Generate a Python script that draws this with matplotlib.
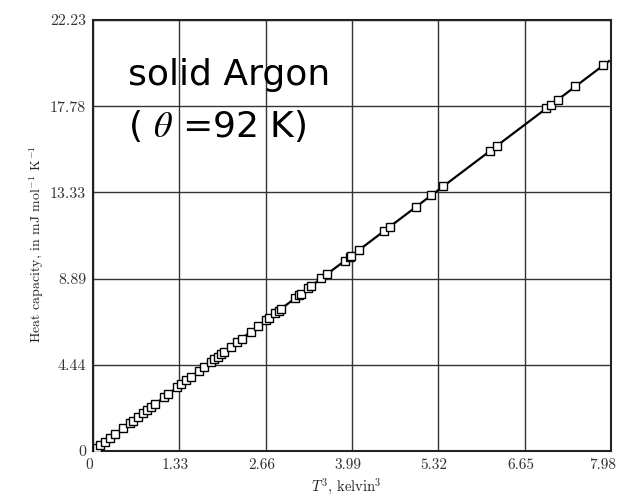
# heat capacity of solid argon vs T^3

import matplotlib.pyplot as plt
import matplotlib.transforms as mtransforms

t_cubed = [0.06, 0.11, 0.18, 0.26, 0.34, 0.46, 0.57, 0.61, 0.69, 0.77,
           0.84, 0.90, 0.95, 1.10, 1.15, 1.30, 1.36, 1.44, 1.51, 1.64,
           1.71, 1.82, 1.87, 1.92, 1.97, 2.02, 2.12, 2.22, 2.29, 2.43,
           2.55, 2.66, 2.71, 2.81, 2.86, 2.90, 3.12, 3.18, 3.21, 3.32,
           3.36, 3.52, 3.61, 3.88, 3.96, 3.97, 4.10, 4.49, 4.57, 4.98,
           5.21, 5.40, 6.12, 6.22, 6.98, 7.06, 7.16, 7.43, 7.86]
heat_cap = [0.17, 0.30, 0.48, 0.68, 0.88, 1.18, 1.45, 1.56, 1.76, 1.96,
            2.14, 2.29, 2.41, 2.79, 2.92, 3.29, 3.44, 3.65, 3.83, 4.15,
            4.33, 4.60, 4.74, 4.86, 4.99, 5.11, 5.37, 5.62, 5.80, 6.15,
            6.46, 6.73, 6.86, 7.11, 7.24, 7.34, 7.90, 8.05, 8.12, 8.40,
            8.50, 8.91, 9.13, 9.82, 10.02, 10.05, 10.37, 11.36, 11.56, 12.60,
            13.18, 13.66, 15.48, 15.74, 17.66, 17.86, 18.11, 18.80, 19.89]

# straight line through the data
fit_x = [0.0, 7.95]
fit_y = [0.0, 20.1]

x_ticks = [0, 1.33, 2.66, 3.99, 5.32, 6.65, 7.98]
x_labels = ['0', '1.33', '2.66', '3.99', '5.32', '6.65', '7.98']
y_ticks = [0, 4.44, 8.89, 13.33, 17.78, 22.23]
y_labels = ['0', '4.44', '8.89', '13.33', '17.78', '22.23']

fig = plt.figure(figsize=(6.22, 4.96), dpi=100)
ax = fig.add_axes([0.1495, 0.0907, 0.8325, 0.8693])

ax.plot(fit_x, fit_y, color='black', lw=1.6, zorder=3)
ax.plot(t_cubed, heat_cap, 's', ms=6, mfc='white', mec='black', mew=1.0, zorder=4)

ax.set_xlim(0, 7.98)
ax.set_ylim(0, 22.23)
ax.set_xticks(x_ticks)
ax.set_xticklabels(x_labels, fontfamily='cmr10', fontsize=11, color='#333333')
ax.set_yticks(y_ticks)
ax.set_yticklabels(y_labels, fontfamily='cmr10', fontsize=11.5, color='#333333')
ax.tick_params(length=0, pad=5)
ax.grid(True, color='#333333', lw=1.0)
ax.set_axisbelow(True)
for s in ax.spines.values():
    s.set_linewidth(1.5)
    s.set_color('#222222')

# x tick labels sit a little left of their grid lines in the scan
shift = mtransforms.ScaledTranslation(-4 / 100, 0, fig.dpi_scale_trans)
for lab in ax.get_xticklabels()[:-1]:
    lab.set_transform(lab.get_transform() + shift)
last_shift = mtransforms.ScaledTranslation(-8 / 100, 0, fig.dpi_scale_trans)
lab = ax.get_xticklabels()[-1]
lab.set_transform(lab.get_transform() + last_shift)

ax.set_xlabel(r'$T^3$, kelvin$^3$', fontfamily='cmr10', fontsize=10.5, color='#222222',
              math_fontfamily='cm')
ax.xaxis.set_label_coords(0.49, -0.058)
ax.set_ylabel(r'Heat capacity, in mJ mol$^{-1}$ K$^{-1}$', fontfamily='cmr10',
              fontsize=10, color='#222222', math_fontfamily='cm')
ax.yaxis.set_label_coords(-0.09, 0.48)

fig.text(128 / 622, 1 - 85 / 496, 'solid Argon', fontfamily='DejaVu Sans',
         fontsize=26, va='baseline', ha='left')
fig.text(128 / 622, 1 - 137 / 496, r'( $\theta$ =92 K)', fontfamily='DejaVu Sans',
         fontsize=26, va='baseline', ha='left', math_fontfamily='stix')

fig.savefig('out.png', dpi=100, facecolor='white')
